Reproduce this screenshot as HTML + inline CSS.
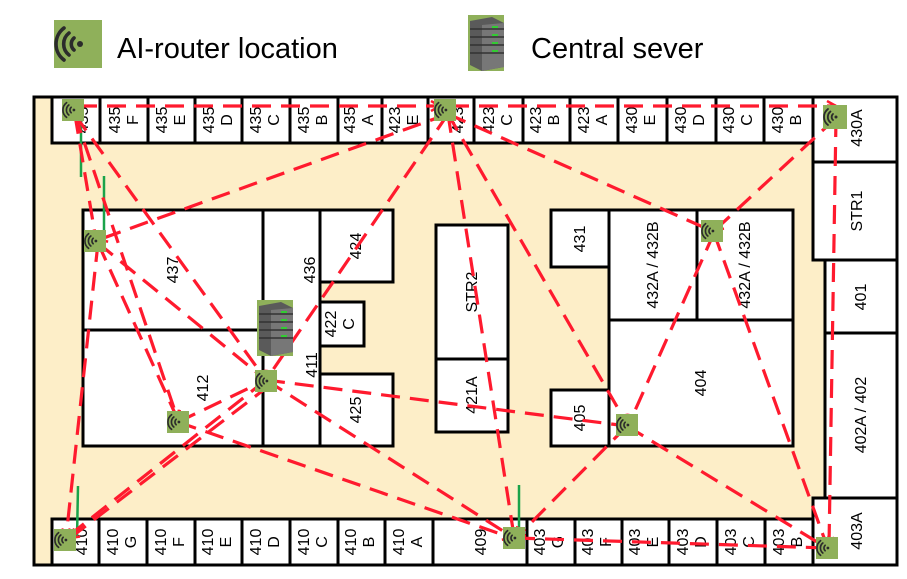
<!DOCTYPE html>
<html><head><meta charset="utf-8"><style>
html,body{margin:0;padding:0;background:#fff;}
svg{display:block;}
text{font-family:"Liberation Sans",sans-serif;}
</style></head><body>
<svg width="907" height="579" viewBox="0 0 907 579" xmlns="http://www.w3.org/2000/svg">
<defs>
<symbol id="r" viewBox="0 0 24 24">
<rect x="0" y="0" width="24" height="24" fill="#8fb05a"/>
<g fill="none" stroke="#2b2b2b" stroke-width="1.8" stroke-linecap="round">
<path d="M10 9 A4 4 0 0 0 10 15"/>
<path d="M7.5 6.5 A7 7 0 0 0 7.5 17.5"/>
<path d="M5 4 A10 10 0 0 0 5 20"/>
</g>
<circle cx="13" cy="12" r="1.5" fill="#2b2b2b"/>
</symbol>
<symbol id="s" viewBox="0 0 40 56">
<rect x="2" y="0" width="36" height="56" fill="#8fb05a"/>
<polygon points="4,6 26,2 38,8 38,52 16,56 4,50" fill="#5a5a5a"/>
<polygon points="16,10 38,8 38,52 16,56" fill="#777"/>
<g stroke="#333" stroke-width="1.5"><line x1="4" y1="14" x2="38" y2="14"/><line x1="4" y1="22" x2="38" y2="22"/><line x1="4" y1="30" x2="38" y2="30"/><line x1="4" y1="38" x2="38" y2="38"/></g>
<g stroke="#3c3" stroke-width="2"><line x1="26" y1="12" x2="32" y2="12"/><line x1="26" y1="20" x2="32" y2="20"/><line x1="26" y1="28" x2="32" y2="28"/><line x1="26" y1="36" x2="32" y2="36"/></g>
</symbol>
<marker id="a" markerWidth="12" markerHeight="12" refX="10" refY="6" orient="auto" markerUnits="userSpaceOnUse">
<path d="M1 1 L10 6 L1 11" fill="none" stroke="#ff1a2e" stroke-width="2.5"/>
</marker>
</defs>

<!-- legend -->
<use href="#r" x="54" y="20" width="48" height="48"/>
<text x="117" y="58" font-size="29">AI-router location</text>
<use href="#s" x="466" y="15" width="40" height="56"/>
<text x="531" y="58" font-size="29">Central sever</text>

<!-- floor -->
<rect x="34" y="97" width="792" height="468" fill="#fdeec8" stroke="#000" stroke-width="3"/>
<g fill="#fff" stroke="#000" stroke-width="3">
<rect x="52" y="97" width="761" height="46"/>
<rect x="813" y="97" width="84" height="65"/>
<rect x="813" y="162" width="84" height="98"/>
<rect x="825" y="260" width="72" height="73"/>
<rect x="825" y="333" width="72" height="165"/>
<rect x="813" y="498" width="84" height="67"/>
<rect x="52" y="519" width="761" height="46"/>
<rect x="83" y="210" width="180" height="236"/>
<line x1="83" y1="330" x2="263" y2="330"/>
<rect x="263" y="210" width="57" height="236"/>
<rect x="320" y="210" width="73" height="72"/>
<rect x="320" y="302" width="44" height="44"/>
<rect x="320" y="374" width="73" height="72"/>
<rect x="436" y="225" width="72" height="207"/>
<line x1="436" y1="359" x2="508" y2="359"/>
<rect x="551" y="210" width="58" height="57"/>
<rect x="609" y="210" width="88" height="110"/>
<rect x="697" y="210" width="96" height="110"/>
<rect x="609" y="320" width="184" height="126"/>
<rect x="551" y="390" width="58" height="56"/>
</g>
<g stroke="#000" stroke-width="3">
<line x1="100" y1="97" x2="100" y2="143"/><line x1="148" y1="97" x2="148" y2="143"/><line x1="195" y1="97" x2="195" y2="143"/><line x1="242" y1="97" x2="242" y2="143"/><line x1="290" y1="97" x2="290" y2="143"/><line x1="338" y1="97" x2="338" y2="143"/><line x1="382" y1="97" x2="382" y2="143"/><line x1="428" y1="97" x2="428" y2="143"/><line x1="474" y1="97" x2="474" y2="143"/><line x1="523" y1="97" x2="523" y2="143"/><line x1="570" y1="97" x2="570" y2="143"/><line x1="618" y1="97" x2="618" y2="143"/><line x1="667" y1="97" x2="667" y2="143"/><line x1="716" y1="97" x2="716" y2="143"/><line x1="764" y1="97" x2="764" y2="143"/>
<line x1="99" y1="519" x2="99" y2="565"/><line x1="147" y1="519" x2="147" y2="565"/><line x1="195" y1="519" x2="195" y2="565"/><line x1="242" y1="519" x2="242" y2="565"/><line x1="290" y1="519" x2="290" y2="565"/><line x1="338" y1="519" x2="338" y2="565"/><line x1="385" y1="519" x2="385" y2="565"/><line x1="433" y1="519" x2="433" y2="565"/><line x1="527" y1="519" x2="527" y2="565"/><line x1="575" y1="519" x2="575" y2="565"/><line x1="622" y1="519" x2="622" y2="565"/><line x1="669" y1="519" x2="669" y2="565"/><line x1="717" y1="519" x2="717" y2="565"/><line x1="765" y1="519" x2="765" y2="565"/>
</g>

<!-- labels -->
<g font-size="16" text-anchor="middle" fill="#000">
<text transform="translate(88,120) rotate(-90)">435</text>
<text transform="translate(120,120) rotate(-90)">435</text><text transform="translate(138,120) rotate(-90)">F</text>
<text transform="translate(167,120) rotate(-90)">435</text><text transform="translate(185,120) rotate(-90)">E</text>
<text transform="translate(214,120) rotate(-90)">435</text><text transform="translate(232,120) rotate(-90)">D</text>
<text transform="translate(261,120) rotate(-90)">435</text><text transform="translate(279,120) rotate(-90)">C</text>
<text transform="translate(309,120) rotate(-90)">435</text><text transform="translate(327,120) rotate(-90)">B</text>
<text transform="translate(355,120) rotate(-90)">435</text><text transform="translate(373,120) rotate(-90)">A</text>
<text transform="translate(400,120) rotate(-90)">423</text><text transform="translate(418,120) rotate(-90)">E</text>
<text transform="translate(463,120) rotate(-90)">423</text>
<text transform="translate(494,120) rotate(-90)">423</text><text transform="translate(512,120) rotate(-90)">C</text>
<text transform="translate(541,120) rotate(-90)">423</text><text transform="translate(559,120) rotate(-90)">B</text>
<text transform="translate(589,120) rotate(-90)">423</text><text transform="translate(607,120) rotate(-90)">A</text>
<text transform="translate(637,120) rotate(-90)">430</text><text transform="translate(655,120) rotate(-90)">E</text>
<text transform="translate(686,120) rotate(-90)">430</text><text transform="translate(704,120) rotate(-90)">D</text>
<text transform="translate(734,120) rotate(-90)">430</text><text transform="translate(752,120) rotate(-90)">C</text>
<text transform="translate(783,120) rotate(-90)">430</text><text transform="translate(801,120) rotate(-90)">B</text>
<text transform="translate(862,128) rotate(-90)">430A</text>
<text transform="translate(862,211) rotate(-90)">STR1</text>
<text transform="translate(866,297) rotate(-90)">401</text>
<text transform="translate(866,415) rotate(-90)">402A / 402</text>
<text transform="translate(862,531) rotate(-90)">403A</text>

<text transform="translate(87,542) rotate(-90)">410</text>
<text transform="translate(118,542) rotate(-90)">410</text><text transform="translate(136,542) rotate(-90)">G</text>
<text transform="translate(166,542) rotate(-90)">410</text><text transform="translate(184,542) rotate(-90)">F</text>
<text transform="translate(213,542) rotate(-90)">410</text><text transform="translate(231,542) rotate(-90)">E</text>
<text transform="translate(261,542) rotate(-90)">410</text><text transform="translate(279,542) rotate(-90)">D</text>
<text transform="translate(309,542) rotate(-90)">410</text><text transform="translate(327,542) rotate(-90)">C</text>
<text transform="translate(356,542) rotate(-90)">410</text><text transform="translate(374,542) rotate(-90)">B</text>
<text transform="translate(404,542) rotate(-90)">410</text><text transform="translate(422,542) rotate(-90)">A</text>
<text transform="translate(486,542) rotate(-90)">409</text>
<text transform="translate(545,542) rotate(-90)">403</text><text transform="translate(563,542) rotate(-90)">G</text>
<text transform="translate(593,542) rotate(-90)">403</text><text transform="translate(611,542) rotate(-90)">F</text>
<text transform="translate(640,542) rotate(-90)">403</text><text transform="translate(658,542) rotate(-90)">E</text>
<text transform="translate(688,542) rotate(-90)">403</text><text transform="translate(706,542) rotate(-90)">D</text>
<text transform="translate(736,542) rotate(-90)">403</text><text transform="translate(754,542) rotate(-90)">C</text>
<text transform="translate(784,542) rotate(-90)">403</text><text transform="translate(802,542) rotate(-90)">B</text>

<text transform="translate(178,270) rotate(-90)">437</text>
<text transform="translate(208,388) rotate(-90)">412</text>
<text transform="translate(315,270) rotate(-90)">436</text>
<text transform="translate(317,365) rotate(-90)">411</text>
<text transform="translate(361,246) rotate(-90)">424</text>
<text transform="translate(336,324) rotate(-90)">422</text><text transform="translate(354,324) rotate(-90)">C</text>
<text transform="translate(361,410) rotate(-90)">425</text>
<text transform="translate(477,292) rotate(-90)">STR2</text>
<text transform="translate(477,395) rotate(-90)">421A</text>
<text transform="translate(585,239) rotate(-90)">431</text>
<text transform="translate(658,265) rotate(-90)">432A / 432B</text>
<text transform="translate(750,265) rotate(-90)">432A / 432B</text>
<text transform="translate(706,383) rotate(-90)">404</text>
<text transform="translate(585,418) rotate(-90)">405</text>
</g>

<!-- green lines -->
<g stroke="#1aa34a" stroke-width="2.5">
<line x1="81" y1="118" x2="81" y2="177"/>
<line x1="104" y1="176" x2="104" y2="245"/>
<line x1="78" y1="486" x2="77" y2="538"/>
<line x1="519" y1="485" x2="519" y2="540"/>
</g>

<!-- red dashed links -->
<g stroke="#ff1a2e" stroke-width="3.2" stroke-dasharray="19 10" fill="none" marker-end="url(#a)">
<line x1="78" y1="106" x2="440" y2="106"/>
<line x1="450" y1="106" x2="836" y2="106"/>
<line x1="75" y1="115" x2="96" y2="240"/>
<line x1="75" y1="115" x2="266" y2="380"/>
<line x1="75" y1="115" x2="178" y2="420"/>
<line x1="448" y1="114" x2="98" y2="240"/>
<line x1="448" y1="114" x2="266" y2="380"/>
<line x1="448" y1="114" x2="514" y2="536"/>
<line x1="448" y1="114" x2="627" y2="424"/>
<line x1="448" y1="114" x2="712" y2="231"/>
<line x1="836" y1="118" x2="714" y2="231"/>
<line x1="836" y1="118" x2="829" y2="546"/>
<line x1="714" y1="233" x2="629" y2="424"/>
<line x1="714" y1="233" x2="827" y2="546"/>
<line x1="98" y1="243" x2="266" y2="380"/>
<line x1="98" y1="243" x2="178" y2="420"/>
<line x1="98" y1="243" x2="66" y2="538"/>
<line x1="266" y1="380" x2="66" y2="538"/>
<line x1="270" y1="385" x2="70" y2="538"/>
<line x1="266" y1="380" x2="627" y2="426"/>
<line x1="266" y1="380" x2="514" y2="538"/>
<line x1="178" y1="422" x2="266" y2="380"/>
<line x1="178" y1="422" x2="512" y2="538"/>
<line x1="627" y1="426" x2="516" y2="538"/>
<line x1="627" y1="426" x2="827" y2="548"/>
<line x1="516" y1="538" x2="827" y2="548"/>
</g>

<!-- routers -->
<use href="#r" x="62" y="99" width="22" height="22"/>
<use href="#r" x="434" y="99" width="22" height="22"/>
<use href="#r" x="823" y="105" width="24" height="24"/>
<use href="#r" x="84" y="230" width="22" height="22"/>
<use href="#r" x="701" y="220" width="22" height="22"/>
<use href="#r" x="255" y="370" width="22" height="22"/>
<use href="#r" x="167" y="411" width="22" height="22"/>
<use href="#r" x="616" y="414" width="22" height="22"/>
<use href="#r" x="54" y="529" width="22" height="22"/>
<use href="#r" x="503" y="527" width="22" height="22"/>
<use href="#r" x="816" y="537" width="22" height="22"/>
<use href="#s" x="255" y="300" width="40" height="56"/>
</svg>
</body></html>
